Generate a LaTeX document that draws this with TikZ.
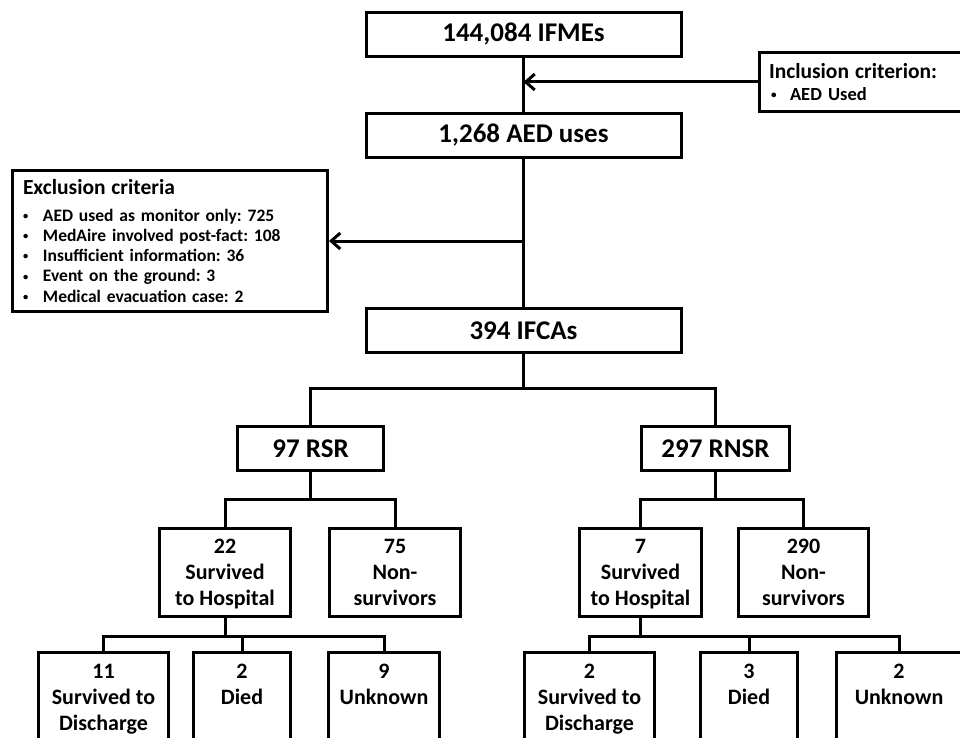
\documentclass[tikz,border=0pt]{standalone}
\usepackage{fontspec}
\setmainfont{Carlito}
\usetikzlibrary{arrows.meta}
\newcommand\lnstrut{\rule[-6.5pt]{0pt}{26pt}}
\newcommand\smbul{\raisebox{0.5ex}{\scalebox{0.6}{\raisebox{-0.5ex}{\textbullet}}}}
\begin{document}
\frenchspacing
\begin{tikzpicture}[x=1pt,y=-1pt,
  box/.style={draw=black, line width=3pt, rectangle, inner sep=0pt, align=center},
  bigbox/.style={box, minimum height=44pt, font=\bfseries\fontsize{27}{32}\selectfont},
  midbox/.style={box, minimum height=88pt, font=\bfseries\fontsize{22}{26}\selectfont},
  lowbox/.style={box, minimum height=92pt, font=\bfseries\fontsize{22}{26}\selectfont},
  conn/.style={line width=3pt},
  arr/.style={line width=3pt, -{Straight Barb[length=9pt,width=16pt,line width=3pt]}}]
\useasboundingbox (0,0) rectangle (960,738);

% top chain
\node[bigbox, minimum width=315pt] (ifme) at (523.5,34.5) {144,084 IFMEs};
\node[bigbox, minimum width=315pt] (aed) at (523.5,135.5) {1,268 AED uses};
\node[bigbox, minimum width=315pt] (ifca) at (523.5,330.5) {394 IFCAs};

% inclusion
\node[box, anchor=west, minimum width=270pt, minimum height=59pt, text width=250pt,
      inner xsep=10pt, align=left, font=\bfseries\fontsize{18.5}{22}\selectfont] (incl) at (757.5,82)
  {{\fontsize{21.5}{22}\selectfont Inclusion criterion:}\\
   \hspace*{2pt}\makebox[19pt][l]{\smbul}AED Used};

% exclusion
\node[box, minimum width=315pt, minimum height=141pt, text width=294pt,
      inner xsep=10.5pt, align=left, font=\bfseries\fontsize{17.5}{20.3}\selectfont] (excl) at (170,241)
  {{\fontsize{21.5}{22}\selectfont Exclusion criteria}\\[6pt]
   \makebox[20pt][l]{\smbul}AED used as monitor only: 725\\
   \makebox[20pt][l]{\smbul}MedAire involved post-fact: 108\\
   \makebox[20pt][l]{\smbul}Insufficient information: 36\\
   \makebox[20pt][l]{\smbul}Event on the ground: 3\\
   \makebox[20pt][l]{\smbul}Medical evacuation case: 2};

% second level
\node[bigbox, minimum width=146pt] (rsr) at (310.5,448.5) {97 RSR};
\node[bigbox, minimum width=148pt] (rnsr) at (715.5,448.5) {297 RNSR};

% third level
\node[midbox, minimum width=131pt] (s22) at (225,572.5) {\lnstrut 22\\\lnstrut Survived\\\lnstrut to Hospital};
\node[midbox, minimum width=131pt] (n75) at (395,572.5) {\lnstrut 75\\\lnstrut Non-\\\lnstrut survivors};
\node[midbox, minimum width=122pt] (s7) at (640.5,572.5) {\lnstrut 7\\\lnstrut Survived\\\lnstrut to Hospital};
\node[midbox, minimum width=130pt] (n290) at (803.5,572.5) {\lnstrut 290\\\lnstrut Non-\\\lnstrut survivors};

% fourth level
\node[lowbox, minimum width=130pt] (d11) at (103.5,698) {\lnstrut 11\\\lnstrut Survived to\\\lnstrut Discharge};
\node[lowbox, minimum width=97pt] (died2) at (242,698) {\lnstrut 2\\\lnstrut Died\\\lnstrut};
\node[lowbox, minimum width=111pt] (unk9) at (384,698) {\lnstrut 9\\\lnstrut Unknown\\\lnstrut};
\node[lowbox, minimum width=130pt] (d2) at (589.5,698) {\lnstrut 2\\\lnstrut Survived to\\\lnstrut Discharge};
\node[lowbox, minimum width=97pt] (died3) at (749,698) {\lnstrut 3\\\lnstrut Died\\\lnstrut};
\node[lowbox, minimum width=125pt] (unk2) at (899,698) {\lnstrut 2\\\lnstrut Unknown\\\lnstrut};

% connectors
\draw[conn] (ifme.south) -- (aed.north);
\draw[arr] (incl.west) -- (ifme.south |- incl.west);
\draw[conn] (aed.south) -- (ifca.north);
\draw[arr] (aed.south |- excl.east) -- (excl.east);

\coordinate (b1) at (523.5,388);
\draw[conn] (ifca.south) -- (b1);
\draw[conn] (rsr.north) |- (b1) -| (rnsr.north);

\coordinate (b2) at (310.5,499);
\draw[conn] (rsr.south) -- (b2);
\draw[conn] (s22.north) |- (b2) -| (n75.north);

\coordinate (b3) at (715.5,499);
\draw[conn] (rnsr.south) -- (b3);
\draw[conn] (s7.north) |- (b3) -| (n290.north);

\coordinate (b4) at (225,636);
\draw[conn] (s22.south) -- (b4);
\draw[conn] (d11.north) |- (b4) -| (unk9.north);
\draw[conn] (died2.north) -- (died2.north |- b4);

\coordinate (b5) at (640.5,636);
\draw[conn] (s7.south) -- (b5);
\draw[conn] (d2.north) |- (b5) -| (unk2.north);
\draw[conn] (died3.north) -- (died3.north |- b5);
\end{tikzpicture}
\end{document}
